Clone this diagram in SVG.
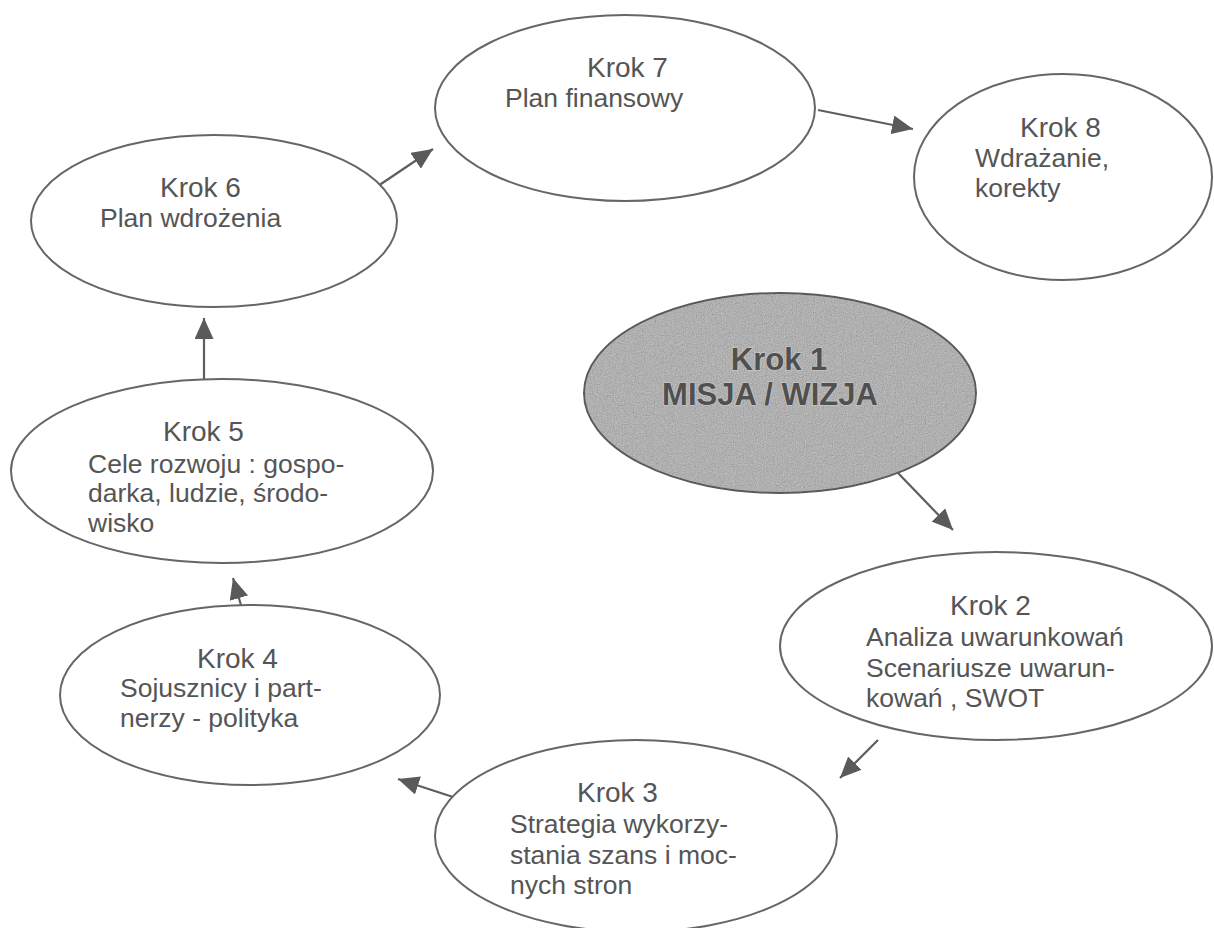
<svg xmlns="http://www.w3.org/2000/svg" width="1214" height="928" viewBox="0 0 1214 928">
<style>
.node{fill:#ffffff;stroke:#666666;stroke-width:2}
.t{font-family:"Liberation Sans",Arial,sans-serif;fill:#555555;font-size:26.5px}
.h{font-size:28px}
.b{font-family:"Liberation Sans",Arial,sans-serif;font-weight:bold;font-size:31px;fill:#505050;stroke:#cfcfcf;stroke-width:1.2;paint-order:stroke}
.c{stroke:#5e5e5e;stroke-width:2.2;fill:none;marker-end:url(#ah)}
</style>
<defs>
<marker id="ah" viewBox="0 0 21 19" refX="21" refY="9.5" markerWidth="21" markerHeight="19" markerUnits="userSpaceOnUse" orient="auto">
<path d="M0,0 L21,9.5 L0,19 Z" fill="#5a5a5a"/>
</marker>
<filter id="noise" x="0" y="0" width="100%" height="100%">
<feTurbulence type="fractalNoise" baseFrequency="0.9" numOctaves="2" seed="3"/>
<feColorMatrix type="saturate" values="0"/>
<feComponentTransfer><feFuncA type="linear" slope="0" intercept="0.45"/></feComponentTransfer>
<feComposite in2="SourceGraphic" operator="in"/>
</filter>
</defs>
<rect width="1214" height="928" fill="#ffffff"/>
<g id="connectors">
<line class="c" x1="898" y1="473" x2="953" y2="530"/>
<line class="c" x1="878" y1="740" x2="840" y2="778"/>
<line class="c" x1="453" y1="797" x2="398" y2="779"/>
<line class="c" x1="243" y1="612" x2="233" y2="578"/>
<line class="c" x1="204" y1="379" x2="204" y2="318"/>
<line class="c" x1="378" y1="186" x2="433" y2="149"/>
<line class="c" x1="818" y1="110" x2="913" y2="129"/>
</g>
<g id="krok1">
<ellipse cx="780" cy="393" rx="196" ry="100" fill="#a6a6a6" stroke="#5a5a5a" stroke-width="2"/>
<ellipse cx="780" cy="393" rx="195" ry="99" fill="#ffffff" filter="url(#noise)"/>
<text class="b" x="779" y="370" text-anchor="middle">Krok 1</text>
<text class="b" x="770" y="405" text-anchor="middle">MISJA / WIZJA</text>
</g>
<g id="krok2">
<ellipse class="node" cx="996" cy="646" rx="216" ry="94"/>
<text class="t h" x="950" y="615">Krok 2</text>
<text class="t" x="866" y="646">Analiza uwarunkowań</text>
<text class="t" x="866" y="677">Scenariusze uwarun-</text>
<text class="t" x="866" y="707">kowań , SWOT</text>
</g>
<g id="krok3">
<ellipse class="node" cx="636" cy="836" rx="201" ry="96"/>
<text class="t h" x="577" y="802">Krok 3</text>
<text class="t" x="510" y="833">Strategia wykorzy-</text>
<text class="t" x="510" y="864">stania szans i moc-</text>
<text class="t" x="510" y="894">nych stron</text>
</g>
<g id="krok4">
<ellipse class="node" cx="250" cy="695" rx="190" ry="90"/>
<text class="t h" x="197" y="668">Krok 4</text>
<text class="t" x="120" y="697">Sojusznicy i part-</text>
<text class="t" x="120" y="727">nerzy - polityka</text>
</g>
<g id="krok5">
<ellipse class="node" cx="222" cy="471" rx="211" ry="92"/>
<text class="t h" x="163" y="441">Krok 5</text>
<text class="t" x="88" y="473">Cele rozwoju : gospo-</text>
<text class="t" x="88" y="502">darka, ludzie, środo-</text>
<text class="t" x="88" y="532">wisko</text>
</g>
<g id="krok6">
<ellipse class="node" cx="214" cy="221" rx="183" ry="86"/>
<text class="t h" x="160" y="197">Krok 6</text>
<text class="t" x="100" y="227">Plan wdrożenia</text>
</g>
<g id="krok7">
<ellipse class="node" cx="625" cy="108" rx="190" ry="93"/>
<text class="t h" x="587" y="77">Krok 7</text>
<text class="t" x="505" y="107">Plan finansowy</text>
</g>
<g id="krok8">
<ellipse class="node" cx="1063" cy="177" rx="149" ry="103"/>
<text class="t h" x="1020" y="137">Krok 8</text>
<text class="t" x="975" y="167">Wdrażanie,</text>
<text class="t" x="975" y="197">korekty</text>
</g>
</svg>
